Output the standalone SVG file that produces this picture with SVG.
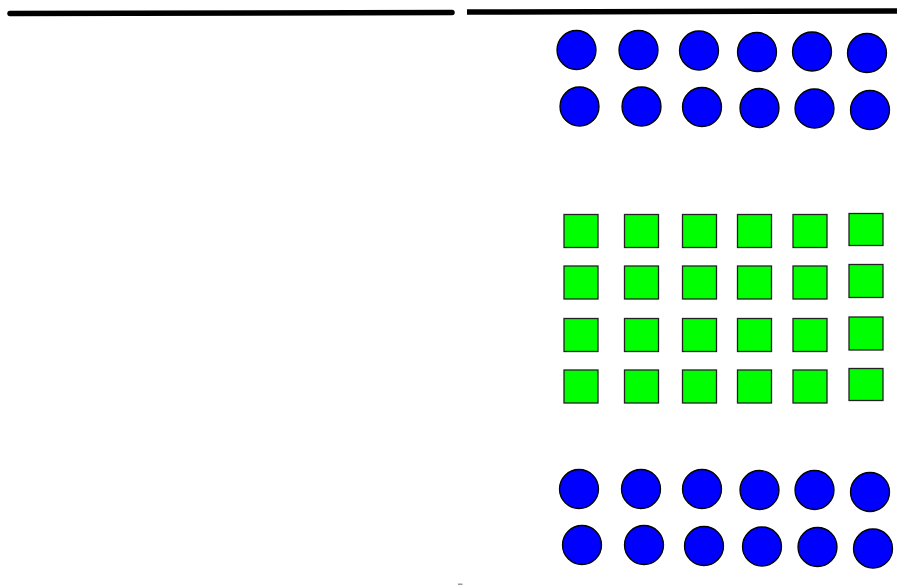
<svg xmlns="http://www.w3.org/2000/svg" width="897" height="585" viewBox="0 0 897 585">
<style>
.c{fill:#0000ff;stroke:#000;stroke-width:1.3}
.s{fill:#00ff00;stroke:#222;stroke-width:1.3}
.ln{stroke:#000;stroke-width:5.5;fill:none}
</style>
<rect width="897" height="585" fill="#fff"/>
<g id="lines">
<path class="ln" d="M10 13.5 L452 12.5" stroke-linecap="round"/>
<path class="ln" d="M467 12 L897 11" stroke-linecap="butt"/>
</g>
<g id="circles-top">
<circle class="c" cx="576.5" cy="50" r="19.5"/>
<circle class="c" cx="638.5" cy="50" r="19.5"/>
<circle class="c" cx="699" cy="50.5" r="19.5"/>
<circle class="c" cx="757" cy="52" r="19.5"/>
<circle class="c" cx="812" cy="51.5" r="19.5"/>
<circle class="c" cx="867" cy="53" r="19.5"/>
<circle class="c" cx="579.5" cy="106.5" r="19.5"/>
<circle class="c" cx="641.5" cy="106.5" r="19.5"/>
<circle class="c" cx="702" cy="107" r="19.5"/>
<circle class="c" cx="759.5" cy="108" r="19.5"/>
<circle class="c" cx="814.5" cy="108.5" r="19.5"/>
<circle class="c" cx="870" cy="110" r="19.5"/>
</g>
<g id="squares">
<rect class="s" x="564" y="214.5" width="34" height="33"/>
<rect class="s" x="624.5" y="214.5" width="34" height="33"/>
<rect class="s" x="682.5" y="214.5" width="34" height="33"/>
<rect class="s" x="737.5" y="214.5" width="34" height="33"/>
<rect class="s" x="793" y="214.5" width="34" height="33"/>
<rect class="s" x="849" y="213.5" width="34" height="32"/>
<rect class="s" x="564" y="266" width="34" height="33"/>
<rect class="s" x="624.5" y="266" width="34" height="33"/>
<rect class="s" x="682.5" y="266" width="34" height="33"/>
<rect class="s" x="737.5" y="266" width="34" height="33"/>
<rect class="s" x="793" y="266" width="34" height="33"/>
<rect class="s" x="849" y="264.5" width="34" height="33"/>
<rect class="s" x="564" y="318.5" width="34" height="33"/>
<rect class="s" x="624.5" y="318.5" width="34" height="33"/>
<rect class="s" x="682.5" y="318.5" width="34" height="33"/>
<rect class="s" x="737.5" y="318.5" width="34" height="33"/>
<rect class="s" x="793" y="318.5" width="34" height="33"/>
<rect class="s" x="849" y="317" width="34" height="33"/>
<rect class="s" x="564" y="370" width="34" height="33"/>
<rect class="s" x="624.5" y="370" width="34" height="33"/>
<rect class="s" x="682.5" y="370" width="34" height="33"/>
<rect class="s" x="737.5" y="370" width="34" height="33"/>
<rect class="s" x="793" y="370" width="34" height="33"/>
<rect class="s" x="849" y="368.5" width="34" height="32"/>
</g>
<g id="circles-bottom">
<circle class="c" cx="579" cy="489" r="19.5"/>
<circle class="c" cx="641" cy="489" r="19.5"/>
<circle class="c" cx="702" cy="489" r="19.5"/>
<circle class="c" cx="759.5" cy="490" r="19.5"/>
<circle class="c" cx="814.5" cy="490" r="19.5"/>
<circle class="c" cx="870" cy="492" r="19.5"/>
<circle class="c" cx="582" cy="545" r="19.5"/>
<circle class="c" cx="644" cy="545" r="19.5"/>
<circle class="c" cx="704" cy="546" r="19.5"/>
<circle class="c" cx="762" cy="546.5" r="19.5"/>
<circle class="c" cx="817.5" cy="547" r="19.5"/>
<circle class="c" cx="873" cy="548.5" r="19.5"/>
</g>
<rect x="458" y="583.5" width="4.5" height="1.5" fill="#999"/>
</svg>
